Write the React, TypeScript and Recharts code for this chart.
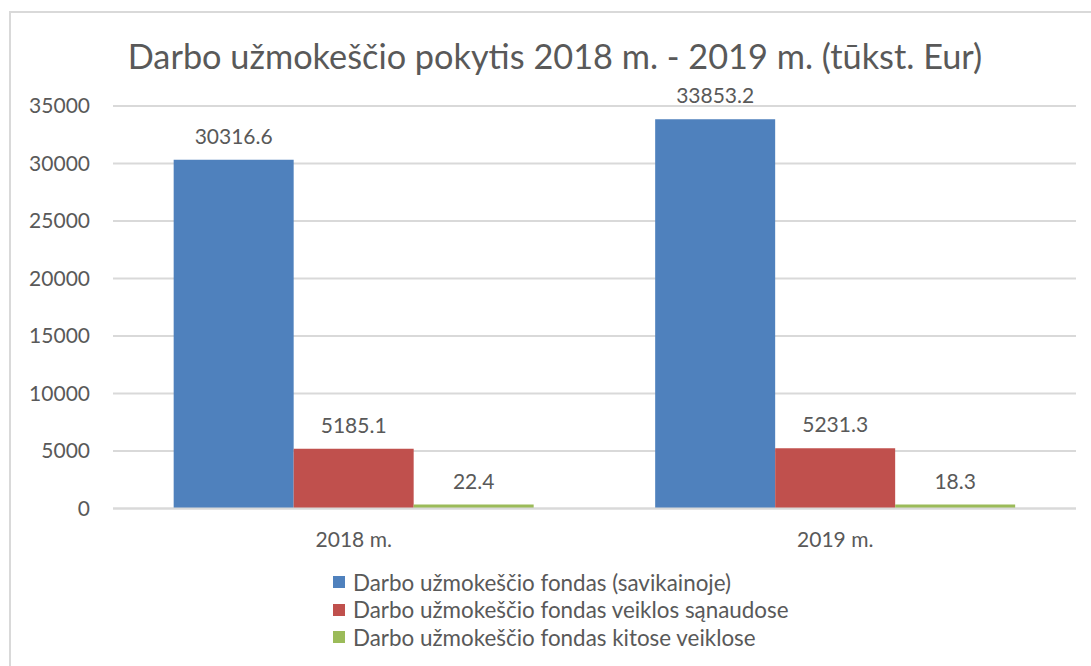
import React from 'react';
import { BarChart, Bar, XAxis, YAxis, CartesianGrid, Legend, LabelList } from 'recharts';

const title = 'Darbo užmokeščio pokytis 2018 m. - 2019 m. (tūkst. Eur)';
const categories = ['2018 m.', '2019 m.'];
const savikaina = [30316.6, 33853.2];
const sanaudos = [5185.1, 5231.3];
const kitos = [22.4, 18.3];
const yTicks = [0, 5000, 10000, 15000, 20000, 25000, 30000, 35000];
const seriesNames = [
  'Darbo užmokeščio fondas (savikainoje)',
  'Darbo užmokeščio fondas veiklos sąnaudose',
  'Darbo užmokeščio fondas kitose veiklose',
];
const seriesColors = ['#4f81bd', '#c0504d', '#9bbb59'];

const TEXT = '#595959';
const GRID = '#d9d9d9';
const FONT = 'Lato, "Open Sans", sans-serif';

const data = categories.map((c, i) => ({ name: c, a: savikaina[i], b: sanaudos[i], c: kitos[i] }));

const LegendContent = () => (
  <div style={{ fontFamily: FONT, fontSize: 22.4, color: TEXT }}>
    {seriesNames.map((n, i) => (
      <div key={n} style={{ display: 'flex', alignItems: 'center', height: 27.5 }}>
        <span style={{ display: 'inline-block', width: 12, height: 12, background: seriesColors[i], marginRight: 8 }} />
        <span>{n}</span>
      </div>
    ))}
  </div>
);

export default function App() {
  const labelStyle = { fill: TEXT, fontSize: 21, fontFamily: FONT };
  return (
    <div style={{ position: 'fixed', left: 0, top: 0, width: 1091, height: 666, overflow: 'hidden', background: '#fff', fontFamily: FONT }}>
      <div style={{ position: 'absolute', left: 9, top: 11, width: 1120, height: 720, border: `2px solid ${GRID}`, boxSizing: 'border-box' }} />
      <div style={{ position: 'absolute', left: 0, width: 1110, top: 35, textAlign: 'center', fontSize: 34.3, color: TEXT, lineHeight: '42px', whiteSpace: 'nowrap' }}>
        {title}
      </div>
      <div style={{ position: 'absolute', left: 0, top: 0 }}>
        <BarChart
          width={1091}
          height={666}
          data={data}
          margin={{ top: 106, right: 15, left: 10, bottom: 15 }}
          barCategoryGap="12.6%"
          barGap={0}
        >
          <CartesianGrid vertical={false} stroke={GRID} strokeWidth={2} />
          <XAxis
            dataKey="name"
            height={60}
            tickLine={false}
            axisLine={{ stroke: GRID, strokeWidth: 2 }}
            tick={{ fill: TEXT, fontSize: 21, fontFamily: FONT }}
            tickSize={0}
            tickMargin={24}
          />
          <YAxis
            domain={[0, 35000]}
            ticks={yTicks}
            width={103}
            axisLine={false}
            tickLine={false}
            tick={{ fill: TEXT, fontSize: 21, fontFamily: FONT }}
            tickMargin={17}
            interval={0}
          />
          <Legend
            layout="vertical"
            verticalAlign="bottom"
            align="center"
            wrapperStyle={{ left: 333 }}
            content={<LegendContent />}
          />
          <Bar dataKey="a" name={seriesNames[0]} fill={seriesColors[0]} isAnimationActive={false}>
            <LabelList dataKey="a" position="top" offset={16} style={labelStyle} />
          </Bar>
          <Bar dataKey="b" name={seriesNames[1]} fill={seriesColors[1]} isAnimationActive={false}>
            <LabelList dataKey="b" position="top" offset={16} style={labelStyle} />
          </Bar>
          <Bar dataKey="c" name={seriesNames[2]} fill={seriesColors[2]} minPointSize={4} isAnimationActive={false}>
            <LabelList dataKey="c" position="top" offset={16} style={labelStyle} />
          </Bar>
        </BarChart>
      </div>
    </div>
  );
}
